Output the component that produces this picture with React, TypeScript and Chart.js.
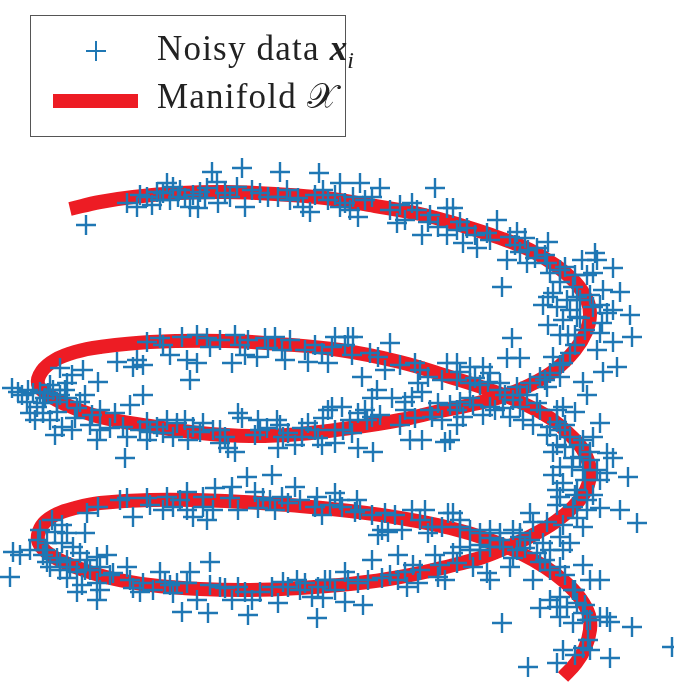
import React, { useEffect, useRef } from "react";
import { Chart, registerables } from "chart.js";

Chart.register(...registerables);

// Manifold curve (x, y in picture pixels)
const manifoldX = [70, 100, 133, 180, 225, 275, 325, 375, 420, 460, 500, 530, 555, 575, 587, 590, 586, 575, 555, 530, 500, 470, 440, 400, 350, 300, 250, 200, 150, 100, 67, 47, 38, 42, 55, 75, 100, 150, 225, 280, 340, 400, 450, 490, 520, 550, 570, 583, 590, 586, 573, 555, 533, 510, 483, 450, 400, 350, 300, 250, 200, 150, 110, 78, 52, 40, 38, 44, 57, 75, 100, 150, 225, 300, 350, 400, 450, 490, 520, 545, 565, 580, 589, 590, 585, 576, 563];
const manifoldY = [209, 202, 197, 193, 192, 194, 198, 206, 214, 225, 238, 250, 265, 282, 300, 315, 332, 350, 370, 385, 397, 405, 411, 420, 428, 434, 436, 433, 426, 417, 405, 394, 384, 371, 360, 352, 347, 342, 341, 344, 350, 362, 377, 390, 402, 418, 435, 450, 470, 490, 507, 522, 535, 546, 557, 566, 577, 584, 588, 590, 589, 585, 578, 568, 556, 545, 535, 523, 514, 508, 503, 500, 501, 506, 511, 518, 528, 540, 553, 567, 582, 598, 615, 630, 648, 663, 677];

// Noisy samples ([x, y] in picture pixels)
const noisyPoints: [number, number][] = [
  [86,225],[127,203],[137,207],[147,197],[152,205],[167,183],[173,187],[163,193],[170,200],[185,198],[190,207],[198,208],[200,192],[212,172],[217,182],[218,203],[207,188],[193,195],[157,192],[180,190],
  [242,168],[280,172],[319,173],[340,183],[360,183],[380,188],[435,188],[237,187],[252,190],[245,207],[268,197],[278,197],[287,190],[298,198],[310,212],[303,207],[315,195],[323,190],[328,200],[340,207],[345,203],[353,197],[358,217],[365,200],[372,197],[397,223],[405,220],[412,203],[417,210],[422,235],[428,222],[438,227],[447,235],[447,208],[225,193],
  [453,208],[497,220],[457,230],[467,228],[477,248],[463,243],[487,233],[510,237],[517,232],[525,238],[548,242],[507,260],[520,252],[528,250],[537,248],[527,263],[547,263],[550,273],[565,267],[582,260],[595,253],[597,260],[593,273],[613,268],[587,275],[502,287],[560,282],[548,297],[553,293],[543,305],[557,307],[573,287],[577,297],[603,290],[620,292],[613,310],[630,315],[607,313],[593,307],[570,310],[563,320],[548,325],[602,323],[580,318],[567,300],[577,317],
  [147,342],[163,345],[170,355],[182,337],[197,335],[207,338],[210,347],[187,360],[197,363],[190,380],[117,362],[137,360],[133,367],[143,365],[220,340],[60,368],[83,370],[72,375],[98,382],[67,383],[12,388],[18,392],[33,393],[40,392],[48,393],[53,390],[65,390],[27,402],[37,407],[43,403],[57,402],[67,398],[80,402],[30,413],[43,413],[57,412],[35,420],[62,427],[72,430],[55,435],[77,408],[92,415],[100,410],[115,413],[130,405],[143,395],[90,425],[100,430],[97,440],[110,428],[123,427],[127,437],[125,458],[147,422],[157,427],[167,420],[177,423],[185,420],[193,427],[203,423],[147,440],[163,433],[173,437],[188,440],[140,430],[220,443],[213,430],[127,498],[147,498],[167,497],[187,492],[203,497],[215,488],
  [235,335],[248,340],[265,338],[275,337],[232,363],[245,355],[257,357],[268,348],[282,350],[285,360],[305,350],[308,362],[322,353],[328,363],[332,347],[335,337],[348,337],[353,337],[352,355],[362,377],[370,353],[378,357],[385,370],[390,343],[377,390],[372,398],[392,398],[405,402],[415,363],[418,383],[428,377],[412,397],[422,392],[442,380],[447,363],[405,410],[415,418],[432,417],[442,420],[438,403],[410,440],[422,440],[445,442],[238,413],[242,418],[258,420],[267,428],[277,420],[255,435],[283,437],[288,433],[302,428],[308,423],[315,430],[323,418],[328,410],[332,407],[342,407],[335,430],[343,430],[352,433],[358,413],[365,410],[367,420],[372,417],[358,448],[373,452],[278,448],[295,445],[322,445],[335,443],[228,448],[235,452],[225,437],[302,437],[318,438],[247,477],[272,475],[295,487],[232,487],[255,492],[263,498],[282,497],[317,497],[335,493],[340,500],[357,500],
  [512,338],[560,335],[568,335],[600,333],[632,337],[613,342],[597,350],[570,353],[553,357],[507,358],[520,358],[617,367],[603,372],[563,363],[560,377],[550,373],[540,377],[547,387],[583,382],[587,395],[457,363],[470,367],[483,367],[490,373],[457,380],[470,383],[480,385],[488,382],[500,383],[500,390],[517,387],[530,383],[527,395],[513,400],[537,403],[520,407],[503,408],[490,407],[473,405],[460,402],[457,410],[463,417],[457,425],[483,415],[495,410],[510,417],[523,420],[533,425],[557,410],[563,407],[575,412],[557,422],[550,427],[600,423],[547,435],[560,430],[570,437],[583,440],[593,437],[557,445],[553,452],[565,447],[573,458],[580,457],[590,452],[607,453],[613,458],[560,467],[553,475],[572,467],[583,470],[597,470],[607,473],[628,477],[600,480],[557,490],[563,483],[577,490],[593,495],[560,497],[587,500],[450,440],
  [98,507],[133,517],[163,510],[173,507],[187,510],[193,517],[203,507],[207,520],[213,510],[87,513],[62,525],[55,532],[67,533],[85,533],[47,543],[62,543],[73,547],[13,552],[20,555],[30,550],[43,555],[47,562],[57,558],[67,560],[80,553],[87,560],[97,557],[107,555],[50,567],[60,570],[70,567],[77,572],[90,570],[100,567],[113,573],[127,567],[67,578],[82,585],[97,583],[100,590],[77,592],[97,600],[10,577],[210,562],[143,583],[140,592],[160,572],[165,582],[177,583],[173,593],[190,572],[187,583],[197,600],[182,612],[208,613],[220,587],[133,588],[153,590],
  [238,510],[258,508],[275,510],[288,503],[315,507],[322,515],[342,507],[355,512],[372,515],[385,513],[382,530],[378,535],[388,532],[402,530],[412,510],[425,510],[432,527],[428,533],[442,527],[448,513],[372,560],[398,555],[435,555],[413,565],[405,572],[398,580],[407,587],[418,583],[438,577],[445,580],[382,578],[368,580],[358,583],[345,572],[348,580],[335,590],[325,580],[318,587],[305,583],[297,580],[283,582],[288,587],[312,597],[323,598],[345,602],[363,605],[317,618],[278,603],[248,615],[225,588],[238,587],[245,592],[232,600],[252,600],[272,587],
  [530,513],[557,505],[573,507],[587,510],[600,508],[620,510],[637,523],[583,527],[577,518],[563,525],[547,522],[533,522],[453,513],[460,527],[470,530],[480,533],[490,530],[500,533],[513,530],[520,537],[530,540],[543,543],[560,537],[570,543],[563,550],[550,550],[537,553],[517,550],[503,547],[490,547],[480,550],[470,550],[460,547],[453,553],[457,563],[473,567],[487,573],[490,580],[510,567],[513,558],[533,580],[540,562],[550,570],[560,567],[583,565],[590,580],[600,580],[573,590],[560,597],[550,600],[540,608],[557,607],[567,607],[577,603],[583,613],[560,617],[573,623],[587,620],[600,617],[607,617],[610,622],[632,627],[502,623],[563,650],[583,648],[590,650],[610,658],[528,667],[557,663],[672,647],
  [140,195],[160,200],[178,197],[205,198],[230,197],[260,193],[290,200],[335,195],[350,210],[390,210],[400,205],[430,215],[460,222],[475,235],[490,240],[515,245],[535,258],[545,255],[560,270],[575,275],[580,300],[590,295],[600,305],[585,330],[575,335],
  [22,395],[45,398],[50,385],[28,390],[60,395],[85,395],[75,418],[50,420],
  [160,338],[240,345],[290,340],[315,345],[345,345],[400,365],[420,370],[460,372],[475,378],[505,395],[540,410],[565,425],[580,445],[590,460],[585,480],[575,495],
  [150,432],[200,432],[220,430],[260,430],[280,425],[350,420],[380,415],[400,425],[430,410],[450,405],[470,398],[520,395],[545,380],[560,365],[575,345],
  [120,500],[150,505],[180,500],[230,498],[270,500],[300,500],[330,505],[360,510],[395,515],[420,520],[460,520],[490,538],[525,548],[545,560],[565,575],[575,590],[585,605],[590,620],[588,640],[575,655],
  [520,533],[500,540],[480,545],[440,565],[420,570],[390,575],[330,580],[300,590],[260,592],[210,585],[170,585],[130,580],[110,575],[85,570],[60,562],[45,550],[38,540],[40,530],[52,520]
];

const legendLabels = ["Noisy data", "Manifold"];

const W = 674;
const H = 683;
const BLUE = "#1f77b4";
const RED = "#ed1c24";

export default function App() {
  const canvasRef = useRef<HTMLCanvasElement | null>(null);

  useEffect(() => {
    const canvas = canvasRef.current;
    if (!canvas) return;
    const chart = new Chart(canvas, {
      type: "scatter",
      data: {
        datasets: [
          {
            label: "Noisy data",
            data: noisyPoints.map(([x, y]) => ({ x, y })),
            showLine: false,
            pointStyle: "cross",
            pointRadius: 10,
            pointBorderWidth: 2.4,
            pointBorderColor: BLUE,
            pointBackgroundColor: BLUE,
            borderColor: BLUE,
            backgroundColor: BLUE,
            clip: false as any,
          },
          {
            label: "Manifold",
            data: manifoldX.map((x, i) => ({ x, y: manifoldY[i] })),
            showLine: true,
            pointRadius: 0,
            borderColor: RED,
            backgroundColor: RED,
            borderWidth: 14,
            tension: 0.4,
            borderCapStyle: "butt",
            borderJoinStyle: "round",
            clip: false as any,
          },
        ],
      },
      options: {
        responsive: false,
        maintainAspectRatio: false,
        animation: false,
        layout: { padding: 0, autoPadding: false },
        scales: {
          x: { type: "linear", min: 0, max: W, display: false },
          y: { type: "linear", min: 0, max: H, reverse: true, display: false },
        },
        plugins: {
          legend: { display: false },
          tooltip: { enabled: false },
        },
      },
    });
    return () => chart.destroy();
  }, []);

  const font = '"Liberation Serif", "Times New Roman", serif';

  return (
    <div style={{ position: "absolute", left: 0, top: 0, width: W, height: H, background: "#fff" }}>
      <canvas ref={canvasRef} width={W} height={H} style={{ display: "block", width: W, height: H }} />
      <div
        style={{
          position: "absolute",
          left: 30,
          top: 15,
          width: 316,
          height: 122,
          boxSizing: "border-box",
          border: "1.5px solid #555",
          background: "#fff",
        }}
      />
      {/* legend marker: cross */}
      <div style={{ position: "absolute", left: 86, top: 50, width: 20, height: 2, background: BLUE }} />
      <div style={{ position: "absolute", left: 95, top: 41, width: 2, height: 20, background: BLUE }} />
      {/* legend marker: line */}
      <div style={{ position: "absolute", left: 53, top: 94, width: 85, height: 14, background: RED }} />
      <div
        style={{
          position: "absolute",
          left: 157,
          top: 31,
          fontFamily: font,
          fontSize: 35,
          lineHeight: "35px",
          letterSpacing: 1.2,
          color: "#222",
          whiteSpace: "nowrap",
        }}
      >
        {legendLabels[0]}{" "}
        <b style={{ fontStyle: "italic", letterSpacing: 0 }}>x</b>
        <i style={{ fontSize: 24, position: "relative", top: 8, letterSpacing: 0 }}>i</i>
      </div>
      <div
        style={{
          position: "absolute",
          left: 157,
          top: 79,
          fontFamily: font,
          fontSize: 35,
          lineHeight: "35px",
          letterSpacing: 1.2,
          color: "#222",
          whiteSpace: "nowrap",
        }}
      >
        {legendLabels[1]}{" "}
        <span style={{ letterSpacing: 0, fontFamily: '"DejaVu Serif", "DejaVu Sans", "Noto Sans", serif' }}>𝒳</span>
      </div>
    </div>
  );
}
